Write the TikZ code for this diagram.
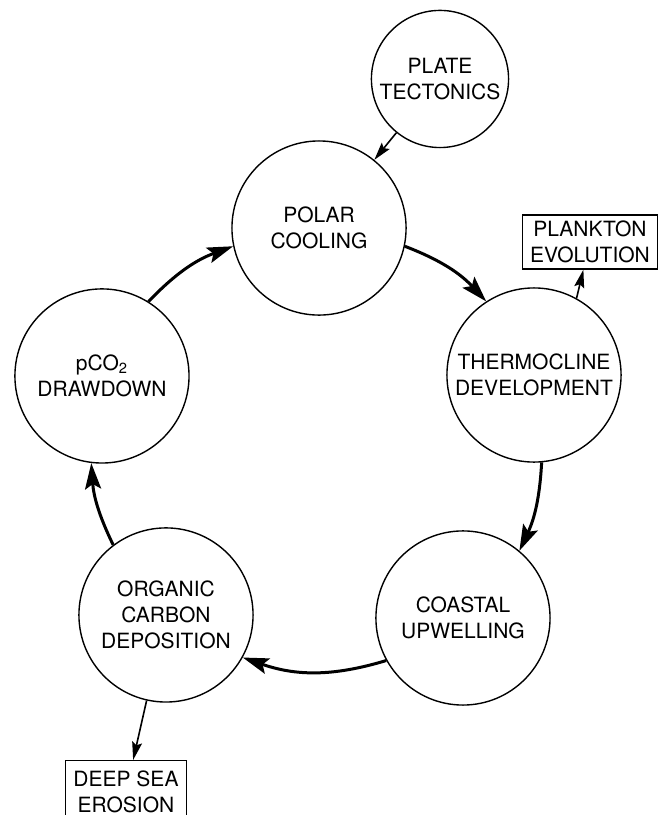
\documentclass[tikz,border=0pt]{standalone}
\usepackage{fontspec}
\setmainfont{TeX Gyre Heros}
\usetikzlibrary{arrows.meta}

\begin{document}
\begin{tikzpicture}[
    bubble/.style={circle, draw, line width=0.7pt, minimum size=3.06cm, inner sep=0pt, align=center, font=\fontsize{10.5}{13}\selectfont},
    smallbubble/.style={bubble, minimum size=2.41cm},
    outbox/.style={rectangle, draw, line width=0.6pt, inner xsep=4pt, inner ysep=3pt, align=center, font=\fontsize{10.5}{13}\selectfont},
    cyclearrow/.style={line width=1.5pt, -{Stealth[length=13pt, width=8pt, inset=2.5pt]}},
    feedarrow/.style={line width=0.8pt, -{Stealth[length=9pt, width=5pt, inset=1.5pt]}}]
    \useasboundingbox (0,0) rectangle (11.598,14.322);
    % the five stages of the loop
    \node[bubble] (polar) at (5.606,10.315) {POLAR\\COOLING};
    \node[bubble] (thermo) at (9.384,7.732) {THERMOCLINE\\DEVELOPMENT};
    \node[bubble] (coastal) at (8.136,3.462) {COASTAL\\UPWELLING};
    \node[bubble] (organic) at (2.917,3.515) {ORGANIC\\CARBON\\DEPOSITION};
    \node[bubble] (pco2) at (1.792,7.715) {pCO\textsubscript{2}\\DRAWDOWN};
    % driver and side effects
    \node[smallbubble] (plate) at (7.732,12.934) {PLATE\\TECTONICS};
    \node[outbox] (plankton) at (10.368,10.069) {PLANKTON\\EVOLUTION};
    \node[outbox, anchor=north, minimum height=31pt] (deep) at (2.214,0.967) {DEEP SEA\\EROSION};
    % loop arrows, clockwise
    \draw[cyclearrow] (polar.-12) to[bend left=13] (thermo.123);
    \draw[cyclearrow] (thermo.-85) to[bend left=11] (coastal.50);
    \draw[cyclearrow] (coastal.209) to[bend left=18] (organic.-29);
    \draw[cyclearrow] (organic.127) to[bend left=11] (pco2.-97);
    \draw[cyclearrow] (pco2.58) to[bend left=13] (polar.192);
    % thin arrows in and out
    \draw[feedarrow] (plate) -- (polar);
    \draw[feedarrow] (thermo.61) -- (plankton);
    \draw[feedarrow] (organic) -- (deep);
\end{tikzpicture}
\end{document}
